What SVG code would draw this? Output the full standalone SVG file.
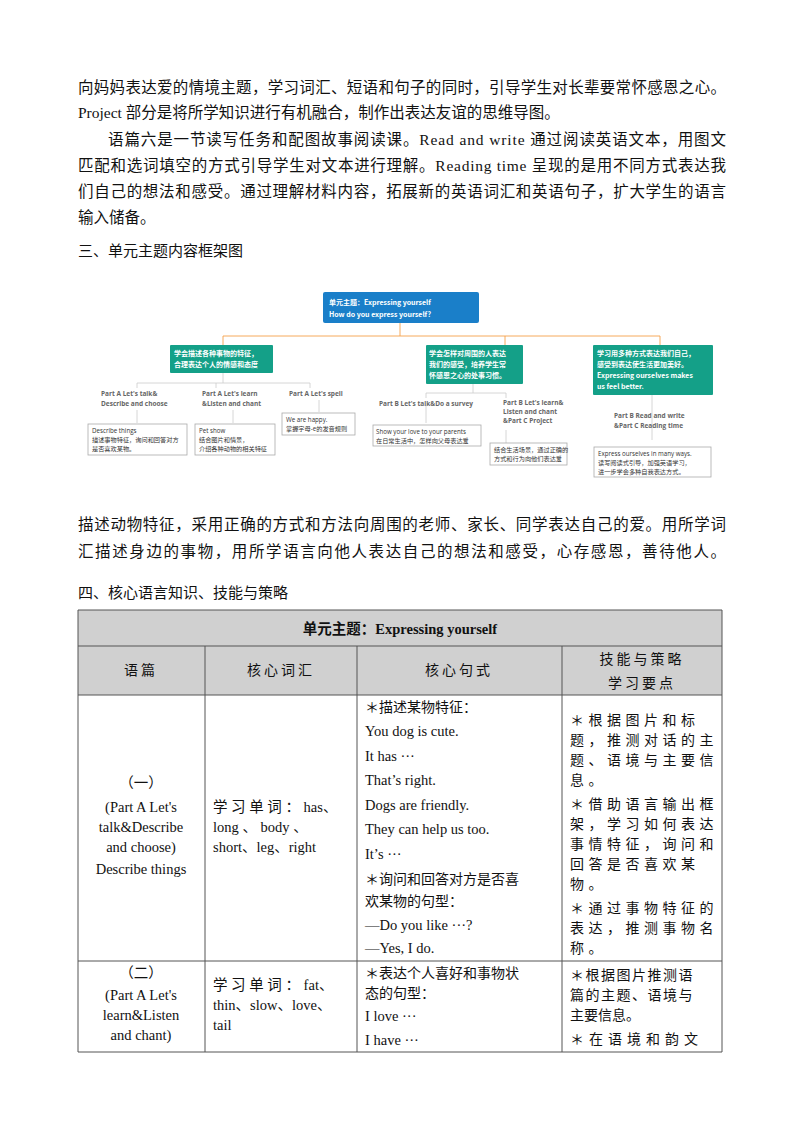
<svg xmlns="http://www.w3.org/2000/svg" width="800" height="1132" viewBox="0 0 800 1132">
<style>
.b{font-family:"Liberation Serif","Noto Sans CJK SC",serif;font-size:15.5px;fill:#111}
.h{font-family:"Noto Sans CJK SC",sans-serif;font-size:15px;fill:#111}
.t{font-family:"Liberation Serif","Noto Sans CJK SC",serif;font-size:14.5px;fill:#111}
.c{font-family:"Noto Sans CJK SC",sans-serif;font-size:14px;fill:#111}
.m{font-family:"Noto Sans CJK SC","Open Sans",sans-serif;font-size:7px;fill:#fff;font-weight:bold}
.s{font-family:"Open Sans","Noto Sans CJK SC",sans-serif;font-size:6.5px;fill:#666;font-weight:bold}
.n{font-family:"Open Sans","Noto Sans CJK SC",sans-serif;font-size:6.2px;fill:#333}
.gb{fill:#14a088}
.wb{fill:#fff;stroke:#aaa;stroke-width:0.8}
.ln{stroke:#ccc;stroke-width:0.8;fill:none}
.g{stroke:#555;stroke-width:1;fill:none}
</style>
<rect width="800" height="1132" fill="#fff"/>
<g id="text-top">
<text class="b" x="78" y="93" textLength="648">向妈妈表达爱的情境主题，学习词汇、短语和句子的同时，引导学生对长辈要常怀感恩之心。</text>
<text class="b" x="78" y="118">Project 部分是将所学知识进行有机融合，制作出表达友谊的思维导图。</text>
<text class="b" x="108" y="145" textLength="618">语篇六是一节读写任务和配图故事阅读课。Read  and  write 通过阅读英语文本，用图文</text>
<text class="b" x="78" y="171" textLength="648">匹配和选词填空的方式引导学生对文本进行理解。Reading time 呈现的是用不同方式表达我</text>
<text class="b" x="78" y="197" textLength="648">们自己的想法和感受。通过理解材料内容，拓展新的英语词汇和英语句子，扩大学生的语言</text>
<text class="b" x="78" y="223">输入储备。</text>
<text class="h" x="78" y="256">三、单元主题内容框架图</text>
</g>
<g id="connectors">
<path d="M400 322V336M223 345V336H660V345M505 336V345" fill="none" stroke="#f5a04a" stroke-width="0.9"/>
<path class="ln" d="M223 372V383M137 383H310M137 383V388M216 383V388M310 383V388M137 410V423M233 410V423M319 400V412"/>
<path class="ln" d="M473 383V393M426 393H506M426 393V398M506 393V398M426 405V423M506 430V443M652 395V440"/>
</g>
<g id="root"><rect x="323" y="292" width="156" height="31" rx="2" fill="#1a7fc9"/>
<text class="m" x="329" y="304.5">单元主题：Expressing yourself</text>
<text class="m" x="329" y="317">How do you express yourself?</text></g>
<g id="g1"><rect class="gb" x="170" y="345" width="103" height="28" rx="1"/>
<text class="m" x="174" y="356">学会描述各种事物的特征，</text><text class="m" x="174" y="367">合理表达个人的情感和态度</text></g>
<g id="g2"><rect class="gb" x="426" y="345" width="97" height="39" rx="1"/>
<text class="m" x="429" y="356">学会怎样对周围的人表达</text><text class="m" x="429" y="367">我们的感受，培养学生常</text><text class="m" x="429" y="378">怀感恩之心的处事习惯。</text></g>
<g id="g3"><rect class="gb" x="593" y="345" width="120" height="50" rx="1"/>
<text class="m" x="597" y="356">学习用多种方式表达我们自己，</text><text class="m" x="597" y="367">感受到表达使生活更加美好。</text><text class="m" x="597" y="378">Expressing ourselves makes</text><text class="m" x="597" y="389">us feel better.</text></g>
<g id="pa1"><text class="s" x="101" y="396">Part A Let's talk&amp;</text><text class="s" x="101" y="406">Describe and choose</text></g>
<g id="pa2"><text class="s" x="202" y="396">Part A Let's learn</text><text class="s" x="202" y="406">&amp;Listen and chant</text></g>
<g id="pa3"><text class="s" x="289" y="396">Part A Let's spell</text></g>
<g id="na1"><rect class="wb" x="88" y="424" width="99" height="31"/><text class="n" x="92" y="433">Describe things</text><text class="n" x="92" y="442">描述事物特征，询问和回答对方</text><text class="n" x="92" y="451">是否喜欢某物。</text></g>
<g id="na2"><rect class="wb" x="195" y="424" width="80" height="31"/><text class="n" x="199" y="433">Pet show</text><text class="n" x="199" y="442">结合图片和情景，</text><text class="n" x="199" y="451">介绍各种动物的相关特征</text></g>
<g id="na3"><rect class="wb" x="282" y="413" width="73" height="22"/><text class="n" x="286" y="422">We are happy.</text><text class="n" x="286" y="431">掌握字母-e的发音规则</text></g>
<g id="pb1"><text class="s" x="379" y="406">Part B Let's talk&amp;Do a survey</text></g>
<g id="pb2"><text class="s" x="503" y="405">Part B Let's learn&amp;</text><text class="s" x="503" y="414">Listen and chant</text><text class="s" x="503" y="423">&amp;Part C Project</text></g>
<g id="pb3"><text class="s" x="614" y="418">Part B Read and write</text><text class="s" x="614" y="428">&amp;Part C Reading time</text></g>
<g id="nb1"><rect class="wb" x="373" y="425" width="108" height="21"/><text class="n" x="376" y="434">Show your love to your parents</text><text class="n" x="376" y="443">在日常生活中，怎样向父母表达爱</text></g>
<g id="nb2"><rect class="wb" x="490" y="443" width="77" height="22"/><text class="n" x="494" y="452">结合生活场景，通过正确的</text><text class="n" x="494" y="461">方式和行为向他们表达爱</text></g>
<g id="nb3"><rect class="wb" x="594" y="447" width="117" height="30"/><text class="n" x="598" y="456">Express ourselves in many ways.</text><text class="n" x="598" y="465">读写阅读式引导，加强英语学习，</text><text class="n" x="598" y="474">进一步学会多种自我表达方式。</text></g>
<g id="text-mid">
<text class="b" x="78" y="530" textLength="648">描述动物特征，采用正确的方式和方法向周围的老师、家长、同学表达自己的爱。用所学词</text>
<text class="b" x="78" y="557" textLength="648">汇描述身边的事物，用所学语言向他人表达自己的想法和感受，心存感恩，善待他人。</text>
<text class="h" x="78" y="598">四、核心语言知识、技能与策略</text>
</g>
<g id="table">
<rect x="78" y="610" width="644" height="85" fill="#d0d0d0"/>
<path class="g" d="M78 610H722V1052H78ZM78 646H722M78 695H722M78 961H722M205 646V1052M357 646V1052M562 646V1052"/>
<text class="t" x="400" y="634" text-anchor="middle" font-weight="bold" font-size="17">单元主题：Expressing  yourself</text>
<text class="c" x="141" y="675" text-anchor="middle" letter-spacing="3">语篇</text>
<text class="c" x="281" y="675" text-anchor="middle" letter-spacing="3">核心词汇</text>
<text class="c" x="459" y="675" text-anchor="middle" letter-spacing="3">核心句式</text>
<text class="c" x="642" y="664" text-anchor="middle" letter-spacing="3">技能与策略</text>
<text class="c" x="642" y="688" text-anchor="middle" letter-spacing="3">学习要点</text>
<g text-anchor="middle"><text class="t" x="141" y="788">（一）</text><text class="t" x="141" y="812">(Part A Let's</text><text class="t" x="141" y="832">talk&amp;Describe</text><text class="t" x="141" y="852">and choose)</text><text class="t" x="141" y="874">Describe things</text></g>
<text class="t" x="213" y="812">学 习 单 词 ： has、</text><text class="t" x="213" y="832">long  、 body  、</text><text class="t" x="213" y="852">short、leg、right</text>
<text class="c" x="365" y="712">＊描述某物特征：</text><text class="t" x="365" y="736">You dog is cute.</text><text class="t" x="365" y="761">It has ···</text><text class="t" x="365" y="785">That’s right.</text><text class="t" x="365" y="810">Dogs are friendly.</text><text class="t" x="365" y="834">They can help us too.</text><text class="t" x="365" y="859">It’s ···</text><text class="c" x="365" y="884">＊询问和回答对方是否喜</text><text class="c" x="365" y="906">欢某物的句型：</text><text class="t" x="365" y="930">—Do you like ···?</text><text class="t" x="365" y="953">—Yes, I do.</text>
<g letter-spacing="4.5"><text class="c" x="570" y="725">＊根据图片和标</text><text class="c" x="570" y="745">题，推测对话的主</text><text class="c" x="570" y="765">题、语境与主要信</text><text class="c" x="570" y="785">息。</text><text class="c" x="570" y="809">＊借助语言输出框</text><text class="c" x="570" y="829">架，学习如何表达</text><text class="c" x="570" y="849">事情特征，询问和</text><text class="c" x="570" y="869">回答是否喜欢某</text><text class="c" x="570" y="889">物。</text><text class="c" x="570" y="913">＊通过事物特征的</text><text class="c" x="570" y="933">表达，推测事物名</text><text class="c" x="570" y="953">称。</text></g>
<g text-anchor="middle"><text class="t" x="141" y="978">（二）</text><text class="t" x="141" y="1000">(Part A Let's</text><text class="t" x="141" y="1020">learn&amp;Listen</text><text class="t" x="141" y="1040">and chant)</text></g>
<text class="t" x="213" y="990">学 习 单 词 ： fat、</text><text class="t" x="213" y="1010">thin、slow、love、</text><text class="t" x="213" y="1030">tail</text>
<text class="c" x="365" y="978">＊表达个人喜好和事物状</text><text class="c" x="365" y="998">态的句型：</text><text class="t" x="365" y="1021">I love ···</text><text class="t" x="365" y="1045">I have ···</text>
<text class="c" x="570" y="980" letter-spacing="1.5">＊根据图片推测语</text><text class="c" x="570" y="1000" letter-spacing="1.5">篇的主题、语境与</text><text class="c" x="570" y="1020">主要信息。</text><text class="c" x="570" y="1044" letter-spacing="5">＊在语境和韵文</text>
</g>
</svg>
